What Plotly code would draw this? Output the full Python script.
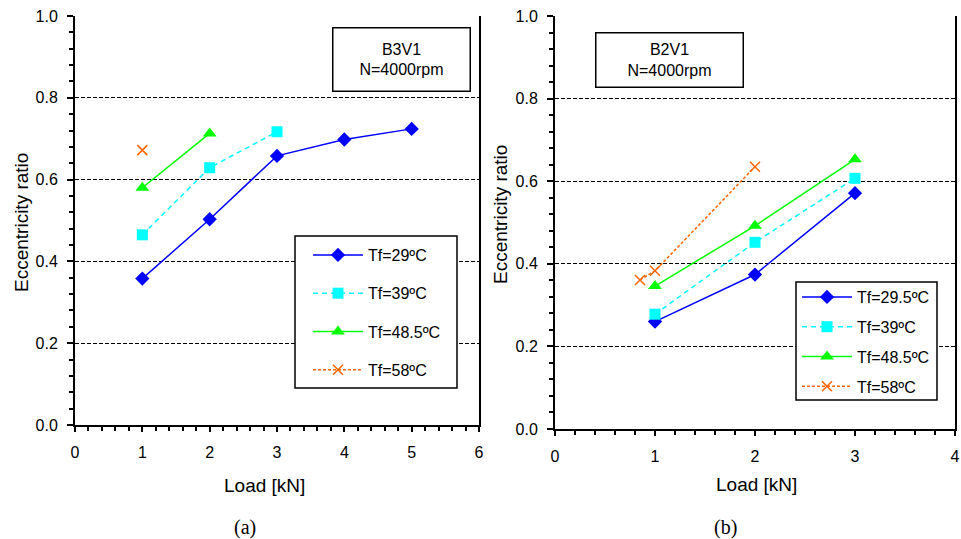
import plotly.graph_objects as go

# ---- data (a) B3V1 ----
a_labels = ["Tf=29ºC", "Tf=39ºC", "Tf=48.5ºC", "Tf=58ºC"]
a_x29 = [1, 2, 3, 4, 5]
a_y29 = [0.358, 0.503, 0.658, 0.698, 0.724]
a_x39 = [1, 2, 3]
a_y39 = [0.465, 0.629, 0.717]
a_x48 = [1, 2]
a_y48 = [0.580, 0.713]
a_x58 = [1]
a_y58 = [0.672]

# ---- data (b) B2V1 ----
b_labels = ["Tf=29.5ºC", "Tf=39ºC", "Tf=48.5ºC", "Tf=58ºC"]
b_x29 = [1, 2, 3]
b_y29 = [0.260, 0.374, 0.571]
b_x39 = [1, 2, 3]
b_y39 = [0.278, 0.452, 0.607]
b_x48 = [1, 2, 3]
b_y48 = [0.346, 0.492, 0.653]
b_x58 = [0.85, 1, 2]
b_y58 = [0.361, 0.383, 0.635]

W, H = 961, 539
FONT = "Liberation Sans, Arial, sans-serif"

colors = ["#0000FF", "#00FFFF", "#00FF00", "#FF6600"]
dashes = ["solid", "5px,4px", "solid", "3px,2px"]
symbols = ["diamond", "square", "triangle-up", "x-thin"]
sizes = [11, 11, 12, 10]

fig = go.Figure()


def add_series(xs, ys, idx, name, xa, ya, legend):
    marker = dict(symbol=symbols[idx], size=sizes[idx], color=colors[idx])
    if symbols[idx] == "x-thin":
        marker["line"] = dict(color=colors[idx], width=1.5)
    fig.add_trace(go.Scatter(
        x=xs, y=ys, name=name, mode="lines+markers",
        line=dict(color=colors[idx], width=1.5, dash=dashes[idx]),
        marker=marker, xaxis=xa, yaxis=ya, legend=legend,
        legendgroup=legend + str(idx),
    ))


a_sets = [(a_x29, a_y29), (a_x39, a_y39), (a_x48, a_y48), (a_x58, a_y58)]
b_sets = [(b_x29, b_y29), (b_x39, b_y39), (b_x48, b_y48), (b_x58, b_y58)]
for i, (xs, ys) in enumerate(a_sets):
    add_series(xs, ys, i, a_labels[i], "x", "y", "legend")
for i, (xs, ys) in enumerate(b_sets):
    add_series(xs, ys, i, b_labels[i], "x2", "y2", "legend2")


def px_x(p):
    return p / W


def px_y(p):
    return 1 - p / H


tickfont = dict(family=FONT, size=16, color="black")


def xaxis_cfg(dom, rng, anchor):
    return dict(
        domain=dom, range=rng, anchor=anchor, dtick=1, tick0=0, automargin=False,
        showline=True, linecolor="black", linewidth=2, mirror=False,
        ticks="outside", ticklen=5, tickwidth=2, tickcolor="black",
        minor=dict(dtick=0.2, ticks="outside", ticklen=4, tickwidth=1.5, tickcolor="black"),
        showgrid=False, zeroline=False, tickfont=tickfont, ticklabelstandoff=7,
        fixedrange=True,
    )


def yaxis_cfg(dom, anchor):
    return dict(
        domain=dom, range=[0, 1], anchor=anchor, dtick=0.2, tick0=0, tickformat=".1f",
        automargin=False,
        showline=True, linecolor="black", linewidth=2, mirror=True,
        ticks="outside", ticklen=6, tickwidth=1.5, tickcolor="black",
        minor=dict(dtick=0.04, ticks="outside", ticklen=4, tickwidth=1.5, tickcolor="black"),
        showgrid=True, gridcolor="black", gridwidth=1, griddash="4px,2px",
        zeroline=False, tickfont=tickfont, ticklabelstandoff=6,
        fixedrange=True,
    )


xd1 = [px_x(75), px_x(479)]
xd2 = [px_x(555), px_x(955)]
yd1 = [px_y(425), px_y(16)]
yd2 = [px_y(429), px_y(16)]

legend_common = dict(
    bgcolor="rgba(0,0,0,0)", borderwidth=0,
    font=dict(family=FONT, size=16, color="black"),
    xanchor="left", yanchor="top", itemwidth=50,
    xref="paper", yref="paper", traceorder="grouped",
)

fig.update_layout(
    width=W, height=H, margin=dict(l=0, r=0, t=0, b=0, autoexpand=False),
    paper_bgcolor="white", plot_bgcolor="white",
    font=dict(family=FONT, size=16, color="black"),
    xaxis=xaxis_cfg(xd1, [0, 6], "y"),
    yaxis=yaxis_cfg(yd1, "x"),
    xaxis2=xaxis_cfg(xd2, [0, 4], "y2"),
    yaxis2=yaxis_cfg(yd2, "x2"),
    xaxis3=dict(domain=xd1, range=[0, 6], anchor="y", overlaying="x", dtick=1, tick0=0,
                ticks="inside", ticklen=5, tickwidth=2, tickcolor="black", automargin=False,
                showticklabels=False, showgrid=False, zeroline=False, showline=False,
                fixedrange=True),
    xaxis4=dict(domain=xd2, range=[0, 4], anchor="y2", overlaying="x2", dtick=1, tick0=0,
                ticks="inside", ticklen=5, tickwidth=2, tickcolor="black", automargin=False,
                showticklabels=False, showgrid=False, zeroline=False, showline=False,
                fixedrange=True),
    legend=dict(x=px_x(308), y=px_y(238), tracegroupgap=14.5, **legend_common),
    legend2=dict(x=px_x(797), y=px_y(280), tracegroupgap=6, **legend_common),
    showlegend=True,
)

# legend frames (opaque white boxes with black border, as in the reference)
for (x0, y0, x1, y1) in [(295, 236, 457, 388), (796, 282, 937, 400)]:
    fig.add_shape(type="rect", xref="paper", yref="paper",
                  x0=px_x(x0), x1=px_x(x1), y0=px_y(y1), y1=px_y(y0),
                  line=dict(color="black", width=1.5), fillcolor="white", layer="above")

annots = [
    dict(text="B3V1<br>N=4000rpm", x=px_x(401), y=px_y(60), width=136, height=62,
         bordercolor="black", borderwidth=1.5, borderpad=0, bgcolor="white",
         font=dict(family=FONT, size=16, color="black")),
    dict(text="B2V1<br>N=4000rpm", x=px_x(669), y=px_y(60), width=146, height=53,
         bordercolor="black", borderwidth=1.5, borderpad=0, bgcolor="white",
         font=dict(family=FONT, size=16, color="black")),
    dict(text="Load [kN]", x=px_x(264), y=px_y(485),
         font=dict(family=FONT, size=19, color="black")),
    dict(text="Load [kN]", x=px_x(756), y=px_y(484),
         font=dict(family=FONT, size=19, color="black")),
    dict(text="Eccentricity ratio", x=px_x(21), y=px_y(223), textangle=-90,
         font=dict(family=FONT, size=19, color="black")),
    dict(text="Eccentricity ratio", x=px_x(501), y=px_y(215), textangle=-90,
         font=dict(family=FONT, size=19, color="black")),
    dict(text="(a)", x=px_x(245), y=px_y(527),
         font=dict(family="Liberation Serif, Times New Roman, serif", size=20, color="black")),
    dict(text="(b)", x=px_x(725), y=px_y(527),
         font=dict(family="Liberation Serif, Times New Roman, serif", size=20, color="black")),
]
for a in annots:
    a.update(xref="paper", yref="paper", xanchor="center", yanchor="middle", showarrow=False)
    fig.add_annotation(**a)

fig.write_html(
    "out.html",
    config={"displayModeBar": False},
    post_script="document.body.style.margin='0';document.body.style.overflow='hidden';",
)
